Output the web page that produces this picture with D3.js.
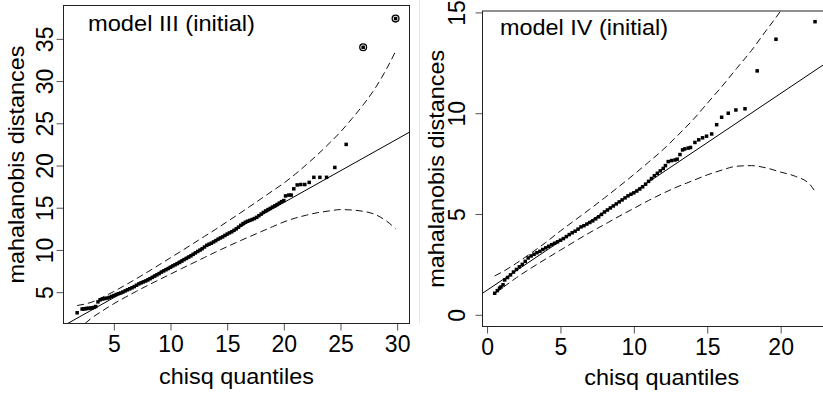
<!DOCTYPE html>
<html><head><meta charset="utf-8">
<script src="https://cdn.jsdelivr.net/npm/d3@7"></script>
<style>body{margin:0;background:#fff}svg{display:block}text{font-family:"Liberation Sans",Arial,Helvetica,sans-serif;fill:#000}</style>
</head><body>
<script>
// ---------- data ----------
// model III (initial)
const leftX = [1.76,2.2,2.35,2.5,2.62,2.78,2.95,3.1,3.25,3.4,3.6,3.8,4.0,4.2,4.4,4.6,4.8,5.0,5.2,5.4,5.6,5.8,6.0,6.2,6.4,6.6,6.8,7.0,7.2,7.4,7.6,7.8,8.0,8.2,8.4,8.6,8.8,9.0,9.2,9.4,9.6,9.8,10.0,10.2,10.4,10.6,10.8,11.0,11.2,11.4,11.6,11.8,12.0,12.2,12.4,12.6,12.8,13.0,13.2,13.4,13.6,13.8,14.0,14.2,14.4,14.6,14.8,15.0,15.2,15.4,15.6,15.8,16.0,16.2,16.4,16.6,16.8,17.0,17.2,17.4,17.6,17.8,18.0,18.2,18.4,18.6,18.8,19.0,19.2,19.4,19.6,19.8,20.0,20.15,20.44,20.65,20.88,21.18,21.5,21.85,22.24,22.65,23.18,23.77,24.5,25.5,27.0,29.86];
const leftY = [2.56,3.0,3.02,3.05,3.07,3.1,3.12,3.15,3.2,3.3,3.85,4.1,4.2,4.25,4.3,4.38,4.5,4.6,4.72,4.82,4.9,5.02,5.15,5.28,5.4,5.52,5.66,5.82,5.98,6.1,6.22,6.32,6.45,6.6,6.75,6.9,7.05,7.2,7.38,7.52,7.66,7.8,7.95,8.1,8.24,8.38,8.52,8.68,8.85,9.0,9.15,9.3,9.48,9.65,9.82,9.98,10.15,10.35,10.55,10.68,10.8,10.95,11.1,11.28,11.42,11.55,11.72,11.88,12.02,12.15,12.32,12.5,12.7,12.92,13.12,13.28,13.4,13.5,13.6,13.72,13.86,14.05,14.25,14.45,14.62,14.78,14.92,15.08,15.22,15.38,15.55,15.72,15.85,16.4,16.5,16.5,17.24,17.7,17.75,17.75,18.0,18.6,18.6,18.6,19.77,22.5,34.0,37.4];
const leftCircledX = [27.0, 29.86];
const leftCircledY = [34.0, 37.4];
const leftLine = [0.6, 0.751];          // intercept, slope
const leftEnvX = [1.76,3,4,5,6,7,8,9,10,11,12,13,14,15,16,17,18,19,20,21,22,23,24,25,26,27,28,29,29.86];
const leftUpper = [3.42,3.80,4.40,5.08,5.83,6.61,7.41,8.24,9.08,9.91,10.76,11.61,12.46,13.35,14.24,15.15,16.07,16.99,17.92,18.97,20.12,21.32,22.62,23.98,25.53,27.18,29.03,31.28,33.52];
const leftLower = [0.42,1.90,2.80,3.64,4.39,5.11,5.81,6.48,7.14,7.81,8.46,9.11,9.76,10.39,11.0,11.59,12.17,12.75,13.32,13.77,14.12,14.42,14.62,14.78,14.73,14.58,14.23,13.48,12.52];
const leftXTicks = [5,10,15,20,25,30];
const leftYTicks = [5,10,15,20,25,30,35];

// model IV (initial)
const rightX = [0.52,0.7,0.85,0.95,1.09,1.2,1.4,1.6,1.8,2.0,2.2,2.4,2.6,2.8,3.0,3.2,3.4,3.6,3.8,4.0,4.2,4.4,4.6,4.8,5.0,5.2,5.4,5.6,5.8,6.0,6.2,6.4,6.6,6.8,7.0,7.2,7.4,7.6,7.8,8.0,8.2,8.4,8.6,8.8,9.0,9.2,9.4,9.6,9.8,10.0,10.2,10.4,10.6,10.8,11.0,11.2,11.4,11.6,11.8,12.0,12.15,12.34,12.57,12.8,12.95,13.14,13.32,13.47,13.7,13.86,14.16,14.42,14.68,14.95,15.3,15.64,15.98,16.43,16.95,17.57,18.4,19.68,22.34];
const rightY = [1.07,1.2,1.32,1.38,1.49,1.73,1.85,1.98,2.12,2.25,2.38,2.5,2.65,2.82,2.92,3.0,3.08,3.15,3.24,3.32,3.4,3.48,3.55,3.62,3.7,3.78,3.88,3.98,4.07,4.15,4.25,4.36,4.42,4.5,4.58,4.66,4.76,4.86,4.98,5.1,5.2,5.3,5.4,5.5,5.6,5.7,5.8,5.9,5.98,6.05,6.14,6.24,6.35,6.48,6.62,6.76,6.9,7.02,7.14,7.26,7.4,7.6,7.65,7.68,7.72,7.95,8.18,8.23,8.27,8.3,8.55,8.68,8.78,8.86,8.97,9.43,9.8,10.0,10.16,10.22,12.1,13.67,14.54];
const rightCircledX = [];
const rightCircledY = [];
const rightLine = [1.22, 0.488];
const rightEnvX = [0.52,1,2,3,4,5,6,7,8,9,10,11,12,13,14,15,16,17,18,19,20,21,22,22.34];
const rightUpper = [1.93,2.11,2.56,3.06,3.59,4.16,4.70,5.24,5.80,6.37,6.96,7.57,8.20,8.91,9.65,10.49,11.33,12.22,13.1,14.09,15.08,16.27,17.56,18.02];
const rightLower = [1.05,1.31,1.84,2.32,2.77,3.21,3.65,4.08,4.48,4.89,5.28,5.67,6.03,6.36,6.65,6.94,7.18,7.37,7.40,7.29,7.08,6.87,6.46,6.12];
const rightXTicks = [0,5,10,15,20];
const rightYTicks = [0,5,10,15];

const titles = ["model III (initial)", "model IV (initial)"];
const xLabel = "chisq quantiles";
const yLabel = "mahalanobis distances";

// ---------- drawing ----------
const svg = d3.select("body").append("svg").attr("width", 823).attr("height", 394);
svg.append("rect").attr("width", 823).attr("height", 394).attr("fill", "#fff");
svg.append("line").attr("x1", 419.5).attr("x2", 419.5).attr("y1", 0).attr("y2", 323)
   .attr("stroke", "#e4e4e4").attr("stroke-width", 1);

const FONT = '"Liberation Sans",Arial,sans-serif';

function panel(o) {
  const g = svg.append("g");
  const x = d3.scaleLinear().domain(o.xDom).range([o.box[0], o.box[1]]);
  const y = d3.scaleLinear().domain(o.yDom).range([o.box[3], o.box[2]]);
  const cid = "clip" + o.id;
  svg.append("clipPath").attr("id", cid).append("rect")
    .attr("x", o.box[0]).attr("y", o.box[2])
    .attr("width", o.box[1] - o.box[0]).attr("height", o.box[3] - o.box[2]);
  const pg = g.append("g").attr("clip-path", `url(#${cid})`);

  // reference line
  const d0 = x.domain()[0], d1 = x.domain()[1];
  pg.append("line")
    .attr("x1", x(d0)).attr("y1", y(o.line[0] + o.line[1] * d0))
    .attr("x2", x(d1)).attr("y2", y(o.line[0] + o.line[1] * d1))
    .attr("stroke", "#000").attr("stroke-width", 1);

  // envelopes
  const ln = d3.line().x(d => x(d[0])).y(d => y(d[1])).curve(d3.curveMonotoneX);
  [o.upper, o.lower].forEach(arr => {
    pg.append("path").attr("d", ln(o.envX.map((v, i) => [v, arr[i]])))
      .attr("fill", "none").attr("stroke", "#111").attr("stroke-width", 1)
      .attr("stroke-dasharray", "7,4");
  });

  // points
  const s = 3.5;
  pg.selectAll("rect.pt").data(o.px.map((v, i) => [v, o.py[i]])).join("rect")
    .attr("class", "pt")
    .attr("x", d => x(d[0]) - s / 2).attr("y", d => y(d[1]) - s / 2)
    .attr("width", s).attr("height", s).attr("fill", "#000");
  pg.selectAll("circle.out").data(o.cx.map((v, i) => [v, o.cy[i]])).join("circle")
    .attr("class", "out")
    .attr("cx", d => x(d[0])).attr("cy", d => y(d[1])).attr("r", 3.4)
    .attr("fill", "none").attr("stroke", "#000").attr("stroke-width", 1.3);

  // axes
  const ax = g.append("g").attr("transform", `translate(0,${o.box[3]})`)
    .call(d3.axisBottom(x).tickValues(o.xt).tickSize(7).tickSizeOuter(0).tickPadding(0).tickFormat(d3.format("d")));
  ax.select(".domain").remove();
  ax.selectAll(".tick line").attr("stroke", "#555");
  ax.selectAll(".tick text").attr("y", null).attr("dy", null)
    .attr("transform", `translate(0,${o.xtBase - o.box[3]})`)
    .style("font-size", "23px").style("font-family", FONT).attr("fill", "#000");

  const ay = g.append("g").attr("transform", `translate(${o.box[0]},0)`)
    .call(d3.axisLeft(y).tickValues(o.yt).tickSize(7).tickSizeOuter(0).tickPadding(0).tickFormat(d3.format("d")));
  ay.select(".domain").remove();
  ay.selectAll(".tick line").attr("stroke", "#555");
  ay.selectAll(".tick text").attr("x", null).attr("dy", null)
    .attr("text-anchor", "middle")
    .attr("transform", `translate(${o.ytBase - o.box[0]},0) rotate(-90)`)
    .style("font-size", "23px").style("font-family", FONT).attr("fill", "#000");

  // box
  g.append("rect").attr("x", o.box[0]).attr("y", o.box[2])
    .attr("width", o.box[1] - o.box[0]).attr("height", o.box[3] - o.box[2])
    .attr("fill", "none").attr("stroke", "#222").attr("stroke-width", 1);

  // labels
  g.append("text").attr("x", o.titleX).attr("y", o.titleY)
    .attr("textLength", o.titleLen).attr("lengthAdjust", "spacingAndGlyphs")
    .style("font-size", "21.5px").text(o.title);
  const cx = (o.box[0] + o.box[1]) / 2;
  g.append("text").attr("x", cx).attr("y", o.xlBase).attr("text-anchor", "middle")
    .attr("textLength", 155).attr("lengthAdjust", "spacingAndGlyphs")
    .style("font-size", "21.5px").text(xLabel);
  const cy = (o.box[2] + o.box[3]) / 2;
  g.append("text").attr("transform", `translate(${o.ylBase},${cy}) rotate(-90)`)
    .attr("text-anchor", "middle")
    .attr("textLength", 238).attr("lengthAdjust", "spacingAndGlyphs")
    .style("font-size", "21.5px").text(yLabel);
}

panel({id: "L", box: [63.5, 409.5, 5.5, 323.5], xDom: [0.556, 31.09], yDom: [1.29, 38.95],
  px: leftX, py: leftY, cx: leftCircledX, cy: leftCircledY, line: leftLine,
  envX: leftEnvX, upper: leftUpper, lower: leftLower, xt: leftXTicks, yt: leftYTicks,
  xtBase: 352, ytBase: 53, xlBase: 384, ylBase: 23.5,
  title: titles[0], titleX: 88, titleY: 31, titleLen: 167});

panel({id: "R", box: [482.5, 841, 11, 326.5], xDom: [-0.31, 24.11], yDom: [-0.58, 15.07],
  px: rightX, py: rightY, cx: rightCircledX, cy: rightCircledY, line: rightLine,
  envX: rightEnvX, upper: rightUpper, lower: rightLower, xt: rightXTicks, yt: rightYTicks,
  xtBase: 355, ytBase: 465, xlBase: 385, ylBase: 443.5,
  title: titles[1], titleX: 500, titleY: 35, titleLen: 168});
</script>
</body></html>
